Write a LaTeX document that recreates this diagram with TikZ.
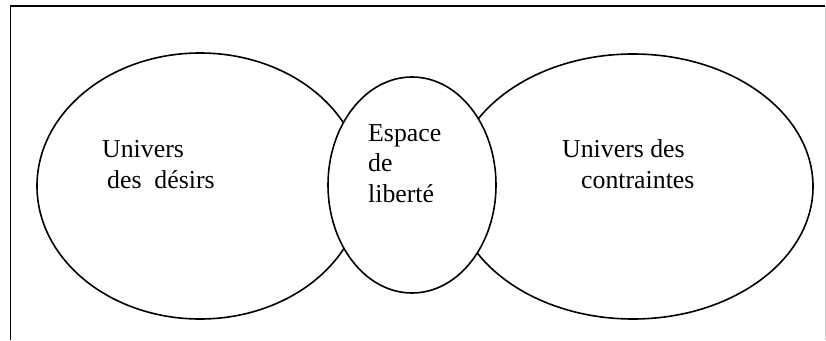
\documentclass[tikz,border=0pt]{standalone}
\usepackage{fontspec}
\setmainfont{Liberation Serif}
\newfontfamily\tnr{Liberation Serif}
\usetikzlibrary{shapes.geometric}
\begin{document}
\begin{tikzpicture}[x=1pt,y=-1pt,
  blob/.style={draw=black,line width=1.6pt,ellipse,inner sep=0pt},
  lbl/.style={anchor=base west,inner sep=0pt,font=\tnr\fontsize{25.8}{30}\selectfont}]
\useasboundingbox (0,0) rectangle (826,340);
% frame
\coordinate (fb) at (10.5,340);
\coordinate (ft) at (10.5,6);
\coordinate (fr) at (825,6);
\coordinate (frb) at (825,340);
\draw[line width=1.6pt] (fb) -- (ft) -- (fr);
\draw[gray!40,line width=0.9pt] (fr) -- (frb);
% ellipses
\node[blob,minimum width=326,minimum height=266] (desirs) at (200,186) {};
\node[blob,minimum width=360,minimum height=265] (contr) at (633,186.5) {};
\node[blob,fill=white,minimum width=168,minimum height=216] (lib) at (412,185) {};
% texts
\node[lbl] (t1) at (102,157) {Univers};
\node[lbl] (t2) at (107,188) {des\hspace{0.5em}désirs};
\node[lbl] (t3) at (562,157) {Univers des};
\node[lbl] (t4) at (581,188) {contraintes};
\node[lbl] (t5) at (368,141) {Espace};
\node[lbl] (t6) at (368,171) {de};
\node[lbl] (t7) at (368,202) {liberté};
\end{tikzpicture}
\end{document}
